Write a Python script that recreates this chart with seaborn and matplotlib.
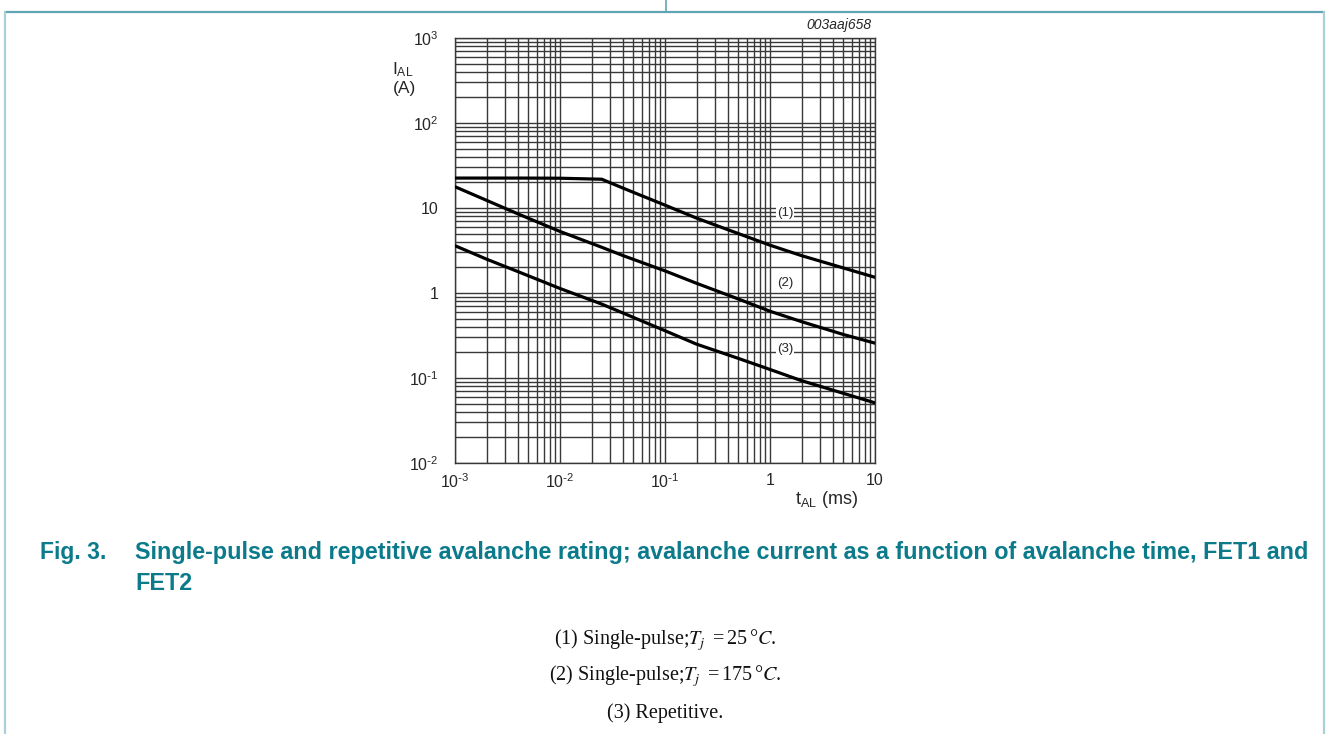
import numpy as np
import pandas as pd
import matplotlib
matplotlib.use("Agg")
import matplotlib.pyplot as plt
import seaborn as sns

# avalanche time (ms)
t_al = [0.001, 0.002, 0.004, 0.01, 0.025, 0.04, 0.1, 0.2, 0.5, 1, 2, 5, 10]
# avalanche current (A)
i_single_25 = [22.5, 22.5, 22.5, 22.4, 21.8, 17.1, 10.8, 7.6, 5.0, 3.65, 2.75, 1.97, 1.53]
i_single_175 = [17.8, 12.3, 8.5, 5.3, 3.45, 2.75, 1.82, 1.3, 0.85, 0.61, 0.46, 0.325, 0.257]
i_repetitive = [3.6, 2.5, 1.78, 1.13, 0.74, 0.58, 0.36, 0.25, 0.17, 0.126, 0.093, 0.066, 0.051]

curve_tags = ["(1)", "(2)", "(3)"]
tag_x = [1.39, 1.39, 1.39]
tag_y = [8.7, 1.31, 0.219]

x_ticks = [1e-3, 1e-2, 1e-1, 1, 10]
x_ticklabels = [r"$10^{\text{-}3}$", r"$10^{\text{-}2}$", r"$10^{\text{-}1}$", "1", "10"]
y_ticks = [1e-2, 1e-1, 1, 10, 1e2, 1e3]
y_ticklabels = [r"$10^{\text{-}2}$", r"$10^{\text{-}1}$", "1", "10", r"$10^{2}$", r"$10^{3}$"]

caption_num = "Fig. 3."
caption_lines = ["Single-pulse and repetitive avalanche rating; avalanche current as a function of avalanche time, FET1 and",
                 "FET2"]
notes = [r"(1) Single-pulse;$\mathit{T}_{\mathit{j}}$ $=25\,°\mathit{C}$.",
         r"(2) Single-pulse;$\mathit{T}_{\mathit{j}}$ $=175\,°\mathit{C}$.",
         "(3) Repetitive."]

sns.set_style("white")
plt.rcParams["font.family"] = ["Liberation Sans", "DejaVu Sans"]
plt.rcParams["mathtext.default"] = "regular"
plt.rcParams["axes.unicode_minus"] = False

W, H = 1328, 734
fig = plt.figure(figsize=(W / 100, H / 100), dpi=100)

def fx(px):
    return px / W

def fy(py):
    return 1 - py / H

# page frame
teal_line = "#5fa5b3"
fig.add_artist(plt.Line2D([fx(5), fx(1324)], [fy(12), fy(12)], color=teal_line, lw=1.6))
fig.add_artist(plt.Line2D([fx(665.5), fx(665.5)], [fy(0), fy(12)], color=teal_line, lw=1.2))
fig.add_artist(plt.Line2D([fx(5), fx(5)], [fy(12), fy(734)], color="#a9d0d8", lw=1.6))
fig.add_artist(plt.Line2D([fx(1324), fx(1324)], [fy(12), fy(734)], color="#a9d0d8", lw=1.6))

ax = fig.add_axes([fx(455), fy(463), fx(875) - fx(455), fy(38) - fy(463)])

df = pd.DataFrame({
    "t": t_al * 3,
    "i": i_single_25 + i_single_175 + i_repetitive,
    "curve": ["1"] * len(t_al) + ["2"] * len(t_al) + ["3"] * len(t_al),
})
sns.lineplot(data=df, x="t", y="i", units="curve", estimator=None,
             color="black", lw=2.3, ax=ax, zorder=5)

ax.set_xscale("log")
ax.set_yscale("log")
ax.set_xlim(1e-3, 10)
ax.set_ylim(1e-2, 1e3)

grid_col = "#383838"
ax.grid(which="both", color=grid_col, lw=1.0)
for s in ax.spines.values():
    s.set_color(grid_col)
    s.set_linewidth(1.0)
ax.tick_params(which="both", length=0)
ax.set_xticks(x_ticks)
ax.set_xticklabels(x_ticklabels, fontsize=11.5)
ax.set_yticks(y_ticks)
ax.set_yticklabels(y_ticklabels, fontsize=11.5)
ax.tick_params(axis="x", pad=7)
ax.tick_params(axis="y", pad=12)
ax.set_xlabel("")
ax.set_ylabel("")

for tag, x, y in zip(curve_tags, tag_x, tag_y):
    ax.text(x, y, tag, fontsize=9.5, ha="center", va="center", zorder=6,
            bbox=dict(facecolor="white", edgecolor="none", pad=0.5))

# axis titles
fig.text(fx(392), fy(74), r"$I_{AL}$", fontsize=12.5, ha="left", va="baseline")
fig.text(fx(404), fy(88), "(A)", fontsize=12.5, ha="center", va="center")
fig.text(fx(858), fy(500), r"$t_{AL}$ (ms)", fontsize=13, ha="right", va="center")
fig.text(fx(872), fy(25), "003aaj658", fontsize=10, style="italic", ha="right", va="center")

# caption
cap_col = "#0b7b8b"
fig.text(fx(40), fy(553), caption_num, fontsize=16.5, weight="bold", color=cap_col,
         ha="left", va="center")
fig.text(fx(135), fy(553), caption_lines[0], fontsize=16.85, weight="bold", color=cap_col,
         ha="left", va="center")
fig.text(fx(135), fy(583), caption_lines[1], fontsize=16.85, weight="bold", color=cap_col,
         ha="left", va="center")

for k, line in enumerate(notes):
    fig.text(fx(665), fy(640 + 36.5 * k), line, fontsize=14.5, ha="center", va="center",
             family=["Liberation Serif", "DejaVu Serif"], math_fontfamily="stix",
             color="#111111")

fig.savefig("out.png", dpi=100, facecolor="white")
